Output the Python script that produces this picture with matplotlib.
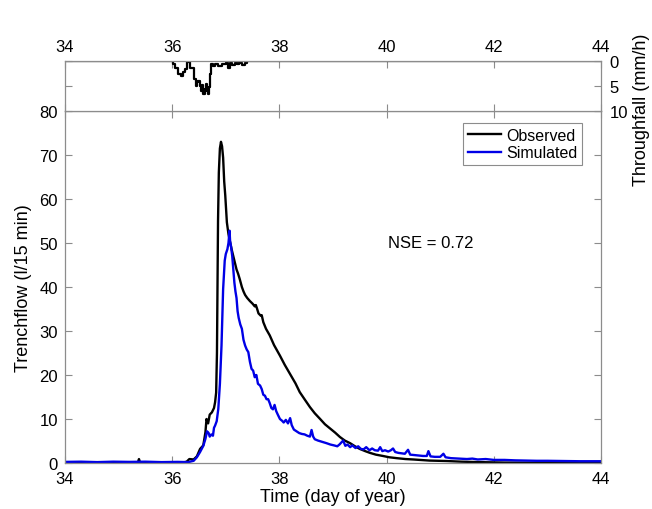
import matplotlib
matplotlib.use("Agg")
import matplotlib.pyplot as plt

plt.rcParams['font.family'] = ['Liberation Sans', 'DejaVu Sans']

# ---------------- data ----------------
# Throughfall (mm/h), step edges (day of year) and values
tf_t = [34.0, 36.01, 36.05, 36.11, 36.17, 36.21, 36.23, 36.27, 36.33, 36.40, 36.44,
        36.47, 36.49, 36.52, 36.54, 36.56, 36.58, 36.61, 36.63, 36.65, 36.67, 36.69,
        36.70, 36.73, 36.76, 36.80, 36.85, 36.92, 36.96, 37.00, 37.04, 37.08, 37.12,
        37.17, 37.21, 37.25, 37.30, 37.35, 37.40, 44.0]
tf_v = [0.0, 0.6, 1.3, 2.6, 2.9, 2.2, 1.6, 0.2, 1.3, 3.6, 4.9,
        4.2, 3.9, 5.0, 5.9, 4.8, 6.6, 5.5, 4.6, 6.0, 6.6, 5.2,
        2.6, 0.5, 0.9, 0.5, 0.9, 0.5, 0.6, 0.4, 1.3, 0.4, 0.7,
        0.3, 0.6, 0.4, 0.7, 0.3, 0.0, 0.0]

# Observed trenchflow (l/15 min)
obs_t = [34.0, 35.36, 35.38, 35.40, 36.20, 36.27, 36.32, 36.40, 36.46, 36.52, 36.58,
         36.62, 36.64, 36.67, 36.70, 36.74, 36.78, 36.80, 36.82, 36.835, 36.855,
         36.87, 36.89, 36.91, 36.93, 36.95, 36.97, 36.99, 37.02, 37.05, 37.08, 37.11,
         37.14, 37.17, 37.20, 37.23, 37.26, 37.30, 37.33, 37.36, 37.40, 37.45, 37.50,
         37.54, 37.56, 37.58, 37.61, 37.65, 37.67, 37.70, 37.75, 37.82, 37.90, 38.01,
         38.10, 38.20, 38.30, 38.38, 38.48, 38.57, 38.66, 38.76, 38.85, 38.94, 39.04,
         39.13, 39.22, 39.32, 39.41, 39.50, 39.60, 39.69, 39.80, 39.93, 40.05, 40.19,
         40.35, 40.50, 40.80, 41.12, 41.40, 41.74, 42.20, 43.00, 44.0]
obs_v = [0.1, 0.1, 0.9, 0.1, 0.1, 0.3, 0.9, 0.8, 1.5, 3.2, 4.0,
         7.0, 10.0, 9.0, 11.0, 11.5, 12.5, 13.8, 16.0, 25.0, 55.0,
         66.0, 71.5, 73.0, 72.0, 69.4, 64.0, 60.8, 54.7, 52.0, 50.2, 48.5,
         47.0, 45.5, 44.0, 43.0, 41.8, 40.0, 39.0, 38.2, 37.5, 36.8, 36.2,
         35.6, 35.9, 35.2, 34.0, 33.5, 33.6, 32.0, 30.5, 29.0, 26.8, 24.4,
         22.3, 20.2, 18.1, 16.1, 14.3, 12.7, 11.3, 10.0, 8.8, 7.9, 6.9,
         5.9, 5.1, 4.5, 3.8, 3.2, 2.7, 2.3, 1.9, 1.6, 1.3, 1.1,
         0.9, 0.8, 0.55, 0.45, 0.3, 0.2, 0.1, 0.05, 0.05]

# Simulated trenchflow (l/15 min)
sim_t = [34.0, 34.3, 34.6, 34.9, 35.2, 35.5, 35.8, 36.1, 36.30, 36.40, 36.46, 36.52,
         36.58, 36.62, 36.65, 36.68, 36.70, 36.73, 36.76, 36.78, 36.80, 36.83, 36.86,
         36.89, 36.92, 36.95, 36.98, 37.00, 37.03, 37.05, 37.07, 37.08, 37.10, 37.12,
         37.14, 37.16, 37.18, 37.20, 37.22, 37.24, 37.27, 37.30, 37.33, 37.36, 37.39,
         37.42, 37.45, 37.48, 37.51, 37.54, 37.57, 37.60, 37.64, 37.67, 37.70, 37.73,
         37.76, 37.79, 37.82, 37.85, 37.88, 37.91, 37.94, 37.97, 38.01, 38.05, 38.08,
         38.12, 38.16, 38.20, 38.23, 38.27, 38.32, 38.37, 38.42, 38.47, 38.52, 38.57,
         38.60, 38.63, 38.66, 38.72, 38.80, 38.88, 38.95, 39.02, 39.08, 39.12, 39.19,
         39.23, 39.27, 39.32, 39.36, 39.42, 39.47, 39.52, 39.57, 39.62, 39.68, 39.73,
         39.78, 39.84, 39.88, 39.92, 39.97, 40.03, 40.08, 40.12, 40.16, 40.22, 40.28,
         40.34, 40.40, 40.44, 40.52, 40.60, 40.68, 40.75, 40.78, 40.82, 40.90, 41.00,
         41.06, 41.10, 41.20, 41.35, 41.50, 41.60, 41.70, 41.85, 42.00, 42.20, 42.40,
         42.60, 42.80, 43.00, 43.30, 43.60, 44.0]
sim_v = [0.25, 0.3, 0.2, 0.3, 0.25, 0.3, 0.2, 0.25, 0.2, 0.5, 1.3, 2.5,
         3.9, 5.5, 7.2, 6.8, 6.0, 6.5, 6.2, 8.0, 8.5, 9.5, 12.3,
         18.0, 26.7, 39.5, 46.0, 47.5, 48.6, 50.0, 52.8, 50.5, 49.0, 47.0,
         44.0, 41.0, 39.0, 37.5, 34.5, 33.0, 31.5, 30.5, 28.0, 26.7, 25.8,
         25.2, 23.0, 21.4, 21.0, 19.5, 20.0, 18.0, 17.6, 16.8, 15.5, 15.3,
         14.5, 14.5, 13.6, 12.5, 12.2, 13.2, 11.8, 11.0, 10.0, 9.6, 9.2,
         9.8, 9.0, 10.2, 8.6, 7.6, 7.2, 6.8, 6.6, 6.5, 6.2, 6.0,
         7.5, 6.0, 5.4, 5.1, 4.8, 4.5, 4.2, 4.0, 3.8, 4.2, 5.1,
         3.9, 4.2, 3.6, 4.0, 3.4, 3.8, 3.2, 3.1, 3.6, 2.9, 3.3,
         2.9, 2.8, 3.6, 2.7, 2.9, 2.6, 2.9, 3.3, 2.5, 2.3, 2.2,
         2.1, 3.0, 1.9, 1.8, 1.7, 1.6, 1.6, 2.7, 1.5, 1.4, 1.4,
         2.1, 1.3, 1.1, 1.0, 0.9, 1.0, 0.8, 0.9, 0.7, 0.7, 0.6,
         0.55, 0.5, 0.5, 0.45, 0.4, 0.4]

x_ticks = [34, 36, 38, 40, 42, 44]
flow_ticks = [0, 10, 20, 30, 40, 50, 60, 70, 80]
tf_ticks = [0, 5, 10]
nse_text = "NSE = 0.72"

# ---------------- figure ----------------
W, H = 652, 510
fig = plt.figure(figsize=(W / 100, H / 100), dpi=100)

axis_col = '#8c8c8c'
L, R = 65 / W, 601 / W
ax = fig.add_axes([L, (H - 464) / H, R - L, (464 - 112) / H])
axt = fig.add_axes([L, (H - 112) / H, R - L, (112 - 62) / H])

for a in (ax, axt):
    for s in a.spines.values():
        s.set_color(axis_col)
        s.set_linewidth(0.9)
    a.tick_params(direction='in', color=axis_col, labelcolor='black',
                  labelsize=12, length=5, width=0.8)

# main panel
ax.plot(obs_t, obs_v, color='black', lw=1.7, label='Observed')
ax.plot(sim_t, sim_v, color='#0000e6', lw=1.7, label='Simulated')
ax.set_xlim(34, 44)
ax.set_ylim(0, 80)
ax.set_xticks(x_ticks)
ax.set_yticks(flow_ticks)
ax.tick_params(top=True, right=True)
ax.tick_params(axis='x', pad=6)
ax.tick_params(axis='y', pad=5)
ax.set_xlabel('Time (day of year)', fontsize=13, labelpad=1)
ax.set_ylabel('Trenchflow (l/15 min)', fontsize=13, labelpad=5)
ax.text(40.03, 50.2, nse_text, fontsize=12, ha='left', va='center')
leg = ax.legend(loc='upper right', bbox_to_anchor=(0.9646, 0.966),
                borderaxespad=0, fancybox=False, fontsize=11.5,
                handlelength=2.1, handletextpad=0.3, borderpad=0.3,
                labelspacing=0.15, framealpha=1)
leg.get_frame().set_edgecolor(axis_col)
leg.get_frame().set_linewidth(0.8)

# top panel (throughfall)
axt.step(tf_t, tf_v, where='post', color='black', lw=1.6)
axt.set_xlim(34, 44)
axt.set_ylim(10, 0)
axt.set_xticks(x_ticks)
axt.set_yticks(tf_ticks)
axt.xaxis.tick_top()
axt.yaxis.tick_right()
axt.tick_params(bottom=True, left=True, labelbottom=False, labelleft=False,
                labeltop=True, labelright=True)
axt.tick_params(axis='x', pad=5)
axt.tick_params(axis='y', pad=6)
fig.text(641 / W, (H - 110) / H, 'Throughfall (mm/h)', rotation=90,
         fontsize=13, ha='center', va='center')

fig.savefig('out.png', dpi=100)
